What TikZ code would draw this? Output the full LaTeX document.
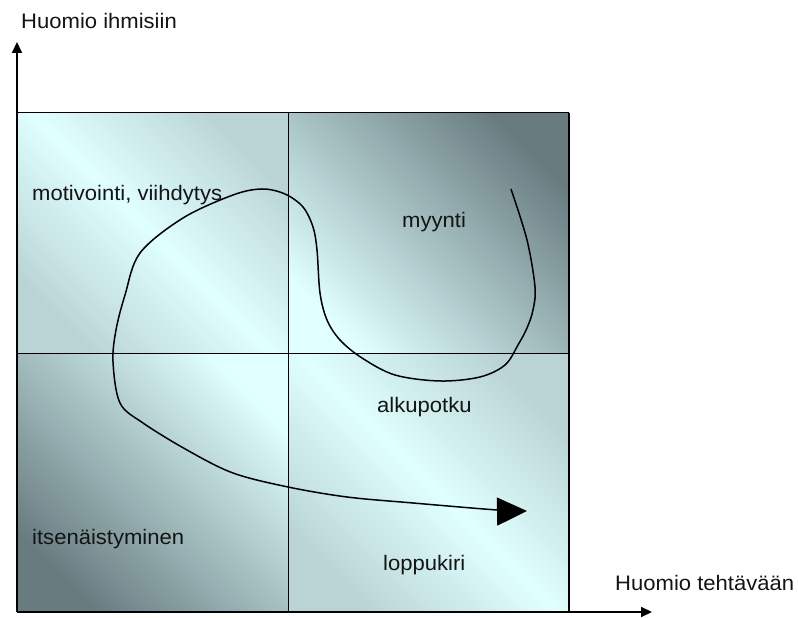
\documentclass[tikz,border=0pt]{standalone}
\usepackage{fontspec}
\setmainfont{Liberation Sans}[FakeStretch=1.05]
\usetikzlibrary{arrows.meta}
\definecolor{lightc}{RGB}{224,255,255}
\definecolor{darkc}{RGB}{104,124,128}
\definecolor{midc}{RGB}{186,212,213}
\definecolor{txt}{RGB}{20,20,20}
\tikzset{
  lbl/.style={anchor=base west, inner sep=0pt, font=\fontsize{21}{25}\selectfont, text=txt},
  grid/.style={draw=black, line width=1pt},
  axis/.style={line width=2pt, -{Triangle[length=11pt,width=10pt]}},
  path/.style={line width=1.5pt, -{Triangle[length=30pt,width=28pt]}},
}
\begin{document}
\begin{tikzpicture}[x=1pt,y=1pt]
\useasboundingbox (0,0) rectangle (798,618);
% quadrants
\shade[top color=midc, bottom color=midc, middle color=lightc, shading angle=-45] (17,264) rectangle (288,505);
\shade[top color=darkc, bottom color=lightc, shading angle=-45] (288,264) rectangle (569,505);
\shade[top color=lightc, bottom color=darkc, shading angle=-45] (17,6) rectangle (288,264);
\shade[top color=midc, bottom color=midc, middle color=lightc, shading angle=-45] (288,6) rectangle (569,264);
% grid
\coordinate (o) at (17,6);
\coordinate (tl) at (17,505);
\coordinate (tr) at (569,505);
\coordinate (br) at (569,6);
\coordinate (mt) at (288,505);
\coordinate (mb) at (288,6);
\coordinate (ml) at (17,264);
\coordinate (mr) at (569,264);
\draw[grid] (tl) -- (tr);
\draw[line width=1.5pt] (tr) -- (br);
\draw[grid] (mt) -- (mb);
\draw[grid] (ml) -- (mr);
% axes
\coordinate (ytip) at (17,576);
\coordinate (xtip) at (652,6);
\draw[axis] (o) -- (ytip);
\draw[axis] (o) -- (xtip);
% labels
\node[lbl] (ylab) at (21,589) {Huomio ihmisiin};
\node[lbl] (xlab) at (615,27) {Huomio tehtävään};
\node[lbl] (q1) at (32,417) {motivointi, viihdytys};
\node[lbl] (q2) at (402,390) {myynti};
\node[lbl] (q3) at (377,205) {alkupotku};
\node[lbl] (q4) at (383,47) {loppukiri};
\node[lbl] (q5) at (32,73) {itsenäistyminen};
% curve
\draw[path] plot[smooth, tension=0.55] coordinates {
(511,429) (527,378) (535,331) (533,308) (527,290) (518,273) (505,253) (480,241)
(440,237) (395,243) (362,260) (340,278) (327,298) (320,325) (317,368) (313,391)
(303,411) (285,424) (262,429) (233,423) (183,400) (140,365) (125,323) (116,288)
(113,256) (120,215) (143,195) (187,168) (233,145) (288,131) (347,121) (413,115)
(497,108) (527,107)};
\end{tikzpicture}
\end{document}
